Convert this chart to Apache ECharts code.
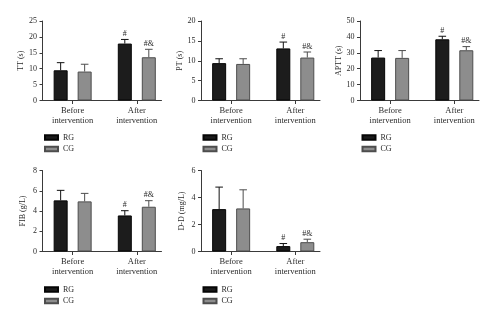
<!DOCTYPE html>
<html>
<head>
<meta charset="utf-8">
<script src="https://cdn.jsdelivr.net/npm/echarts@6/dist/echarts.min.js"></script>
<style>
  html, body { margin: 0; padding: 0; background: #fff; }
  #chart { width: 500px; height: 322px; }
</style>
</head>
<body>
<div id="chart"></div>
<script>
// Group labels shared by every panel
const categories = ['Before\nintervention', 'After\nintervention'];
const seriesNames = ['RG', 'CG'];

// Significance marks per group (before, after)
const rgMarks = ['', '#'];
const cgMarks = ['', '#&'];

// TT (s)
const ttRG = [9.5, 17.9];
const ttRGsd = [2.4, 1.3];
const ttCG = [9.1, 13.6];
const ttCGsd = [2.3, 2.5];
const ttTicks = { max: 25, step: 5 };

// PT (s)
const ptRG = [9.4, 13.1];
const ptRGsd = [1.1, 1.6];
const ptCG = [9.2, 10.8];
const ptCGsd = [1.3, 1.4];
const ptTicks = { max: 20, step: 5 };

// APTT (s)
const apttRG = [27.0, 38.5];
const apttRGsd = [4.4, 1.9];
const apttCG = [26.8, 31.6];
const apttCGsd = [4.6, 2.3];
const apttTicks = { max: 50, step: 10 };

// FIB (g/L)
const fibRG = [5.05, 3.56];
const fibRGsd = [0.99, 0.47];
const fibCG = [4.95, 4.42];
const fibCGsd = [0.79, 0.60];
const fibTicks = { max: 8, step: 2 };

// D-D (mg/L)
const ddRG = [3.14, 0.40];
const ddRGsd = [1.63, 0.19];
const ddCG = [3.19, 0.69];
const ddCGsd = [1.38, 0.22];
const ddTicks = { max: 6, step: 2 };

const panels = [
  { title: 'TT (s)', rg: ttRG, rgSd: ttRGsd, cg: ttCG, cgSd: ttCGsd, ticks: ttTicks },
  { title: 'PT (s)', rg: ptRG, rgSd: ptRGsd, cg: ptCG, cgSd: ptCGsd, ticks: ptTicks },
  { title: 'APTT (s)', rg: apttRG, rgSd: apttRGsd, cg: apttCG, cgSd: apttCGsd, ticks: apttTicks },
  { title: 'FIB (g/L)', rg: fibRG, rgSd: fibRGsd, cg: fibCG, cgSd: fibCGsd, ticks: fibTicks },
  { title: 'D-D (mg/L)', rg: ddRG, rgSd: ddRGsd, cg: ddCG, cgSd: ddCGsd, ticks: ddTicks }
];

// Panel frames (plot areas) and legend anchors
const frames = [
  { left: 42.5, top: 21, height: 79.5 },
  { left: 201, top: 21, height: 79.5 },
  { left: 360, top: 21, height: 79.5 },
  { left: 42.5, top: 170.5, height: 81 },
  { left: 201, top: 170.5, height: 81 }
];
const legendTops = [133.5, 133.5, 133.5, 285.5, 285.5];

const FONT = 'Liberation Serif';
const TEXT = '#2a2a2a';
const AXIS = '#3a3a3a';
const PLOT_W = 119;
const X_MIN = -0.47, X_MAX = 1.385;
const BAR_W = 14;
const BAR_GAP_PX = 10;
const BAR_SHIFT = (BAR_W + BAR_GAP_PX) / 2;
const CAP_HALF = 3.8;

const styles = {
  RG: { fill: '#1c1c1c', border: '#050505', err: '#111' },
  CG: { fill: '#8d8d8d', border: '#4d4d4d', err: '#4d4d4d' }
};

function errorBars(gi, name, values, sds, marks, side) {
  const st = styles[name];
  return {
    type: 'custom',
    name: name + '-err',
    xAxisIndex: gi,
    yAxisIndex: gi,
    z: 4,
    silent: true,
    data: values.map((v, i) => [i, v, sds[i]]),
    renderItem(params, api) {
      const x = api.value(0), v = api.value(1), sd = api.value(2);
      const base = api.coord([x, v]);
      const top = api.coord([x, v + sd]);
      const cx = base[0] + side * BAR_SHIFT;
      const children = [
        { type: 'line', shape: { x1: cx, y1: base[1], x2: cx, y2: top[1] },
          style: { stroke: st.err, lineWidth: 1 } },
        { type: 'line', shape: { x1: cx - CAP_HALF, y1: top[1], x2: cx + CAP_HALF, y2: top[1] },
          style: { stroke: st.err, lineWidth: 1 } }
      ];
      const mark = marks[params.dataIndex];
      if (mark) {
        children.push({
          type: 'text',
          style: {
            x: cx, y: top[1] - 1.5, text: mark,
            fill: TEXT, font: '8px "' + FONT + '"',
            textAlign: 'center', textVerticalAlign: 'bottom'
          }
        });
      }
      return { type: 'group', children };
    }
  };
}

const grid = [], xAxis = [], yAxis = [], series = [], legend = [];

panels.forEach((p, gi) => {
  const f = frames[gi];
  grid.push({ left: f.left, top: f.top, width: PLOT_W, height: f.height, containLabel: false });

  xAxis.push({
    gridIndex: gi, type: 'value', min: X_MIN, max: X_MAX,
    axisLine: { show: true, onZero: false, lineStyle: { color: AXIS, width: 1 } },
    axisTick: { show: true, length: 3.5, customValues: [0, 1], lineStyle: { color: AXIS } },
    axisLabel: {
      show: true, customValues: [0, 1],
      formatter: (v) => categories[Math.round(v)],
      margin: 6, fontFamily: FONT, fontSize: 8.5, lineHeight: 9.5, color: TEXT
    },
    splitLine: { show: false }
  });

  yAxis.push({
    gridIndex: gi, type: 'value', min: 0, max: p.ticks.max, interval: p.ticks.step,
    name: p.title, nameLocation: 'middle', nameGap: 15.5, nameRotate: 90,
    nameTextStyle: { fontFamily: FONT, fontSize: 8, color: TEXT },
    axisLine: { show: true, onZero: false, lineStyle: { color: AXIS, width: 1 } },
    axisTick: { show: true, length: 3, lineStyle: { color: AXIS } },
    axisLabel: { margin: 5.5, fontFamily: FONT, fontSize: 8, color: TEXT },
    splitLine: { show: false }
  });

  const barCommon = {
    type: 'bar', xAxisIndex: gi, yAxisIndex: gi,
    barWidth: BAR_W, barGap: (BAR_GAP_PX / BAR_W * 100) + '%',
    silent: true, z: 2
  };
  series.push(Object.assign({}, barCommon, {
    name: 'RG',
    itemStyle: { color: styles.RG.fill, borderColor: styles.RG.border, borderWidth: 1 },
    data: p.rg.map((v, i) => [i, v])
  }));
  series.push(Object.assign({}, barCommon, {
    name: 'CG',
    itemStyle: { color: styles.CG.fill, borderColor: styles.CG.border, borderWidth: 1 },
    data: p.cg.map((v, i) => [i, v])
  }));
  series.push(errorBars(gi, 'RG', p.rg, p.rgSd, rgMarks, -1));
  series.push(errorBars(gi, 'CG', p.cg, p.cgSd, cgMarks, 1));

  legend.push({
    data: seriesNames, orient: 'vertical',
    left: f.left + 1.5, top: legendTops[gi], padding: 0,
    itemWidth: 13, itemHeight: 4.7, itemGap: 3.5,
    icon: 'rect', selectedMode: false,
    textStyle: { fontFamily: FONT, fontSize: 8, lineHeight: 8, color: TEXT }
  });
});

const chart = echarts.init(document.getElementById('chart'), null, { renderer: 'canvas' });
chart.setOption({
  animation: false,
  backgroundColor: '#ffffff',
  grid, xAxis, yAxis, series, legend
});
</script>
</body>
</html>
